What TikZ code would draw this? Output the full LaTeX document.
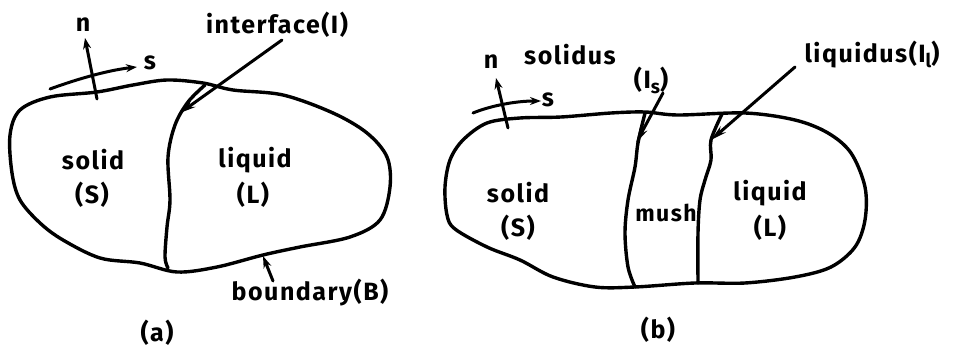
\documentclass[tikz,border=0pt]{standalone}
\usepackage{fontspec}
\setmainfont[LetterSpace=6]{Fira Sans}
\usetikzlibrary{arrows.meta}
\tikzset{
  curve/.style={line width=3.4pt, line join=round, line cap=round},
  lbl/.style={font=\fontsize{25}{26}\selectfont\bfseries, inner sep=0pt},
  ptr/.style={line width=3pt, line cap=round, -{Stealth[length=16pt,width=8pt]}},
  vec/.style={line width=3pt, line cap=round, -{Stealth[length=11pt,width=8pt]}}
}
\begin{document}
\begin{tikzpicture}[x=1pt,y=-1pt]
\useasboundingbox (0,0) rectangle (956,347);
% (a)
\draw[curve] plot[smooth cycle, tension=0.55] coordinates {(10,135) (20,110) (50,97) (97,92) (133,85) (167,80) (203,83) (233,90) (283,95) (333,113) (367,133) (387,157) (390,187) (380,220) (350,237) (300,247) (263,255) (217,267) (177,272) (140,263) (100,258) (63,240) (40,223) (20,200) (12,173)};
\draw[curve] plot[smooth, tension=0.55] coordinates {(205,85) (188,102) (175,125) (168,157) (170,200) (167,227) (165,257) (168,268)};
\coordinate (aIt) at (180,113);
\coordinate (aBt) at (263,256);
\node[lbl] (aI) at (277,25) {interface(I)};
\node[lbl] (aB) at (310,293) {boundary(B)};
\node[lbl] (aS) at (93,160) {solid};
\node[lbl] (aSS) at (92,195) {(S)};
\node[lbl] (aL) at (255,160) {liquid};
\node[lbl] (aLL) at (253,195) {(L)};
\node[lbl] (an) at (83,25) {n};
\node[lbl] (as) at (150,63) {s};
\node[lbl] (acap) at (157,333) {(a)};
\draw[ptr] (282,40) -- (aIt);
\draw[ptr,-{Stealth[length=12pt,width=8pt]}] (273,281) -- (aBt);
\coordinate (an0) at (97,99);
\coordinate (an1) at (85,38);
\draw[vec] (an0) -- (an1);
\coordinate (as0) at (50,89);
\coordinate (as1) at (137,67);
\draw[vec] (as0) .. controls (80,78) and (110,70) .. (as1);
% (b)
\draw[curve] plot[smooth cycle, tension=0.55] coordinates {(445,187) (447,215) (455,229) (487,247) (520,260) (553,277) (595,287) (635,287) (695,283) (745,283) (795,277) (831,267) (855,247) (865,220) (865,187) (851,153) (828,133) (795,120) (745,113) (678,115) (645,112) (611,113) (561,117) (520,118) (487,123) (463,140) (450,160)};
\draw[curve] plot[smooth, tension=0.55] coordinates {(645,113) (638,143) (635,167) (628,200) (625,233) (628,267) (635,287)};
\draw[curve] plot[smooth, tension=0.55] coordinates {(722,114) (711,140) (711,160) (705,180) (700,200) (698,233) (698,283)};
\coordinate (bIst) at (636,143);
\coordinate (bIlt) at (711,140);
\node[lbl] (bsol) at (570,55) {solidus};
\node[lbl] (bIs) at (651,80) {(I\raisebox{-5pt}{\fontsize{19}{19}\selectfont s})};
\node[lbl] (bliq) at (872,55) {liquidus(I\raisebox{-5pt}{\fontsize{19}{19}\selectfont l})};
\node[lbl] (bS) at (518,193) {solid};
\node[lbl] (bSS) at (518,228) {(S)};
\node[lbl,font=\fontsize{23}{24}\selectfont\bfseries] (bM) at (666,213) {mush};
\node[lbl] (bL) at (770,193) {liquid};
\node[lbl] (bLL) at (770,228) {(L)};
\node[lbl] (bn) at (491,62) {n};
\node[lbl] (bs) at (548,100) {s};
\node[lbl] (bcap) at (658,330) {(b)};
\draw[ptr] (663,93) -- (bIst);
\draw[ptr] (795,67) -- (bIlt);
\coordinate (bn0) at (508,128);
\coordinate (bn1) at (496,78);
\draw[vec] (bn0) -- (bn1);
\coordinate (bs0) at (473,113);
\coordinate (bs1) at (541,101);
\draw[vec] (bs0) .. controls (490,106) and (515,101) .. (bs1);
\end{tikzpicture}
\end{document}
